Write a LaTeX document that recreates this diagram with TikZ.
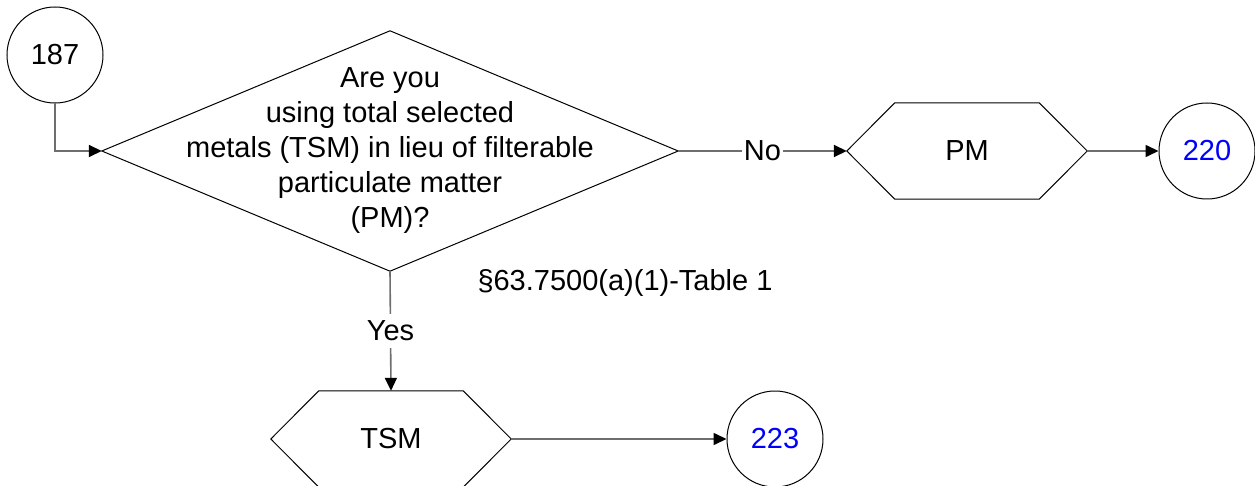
\documentclass[tikz,border=0pt]{standalone}
\usepackage{fontspec}
\setmainfont{Liberation Sans}
\usetikzlibrary{arrows.meta}
\definecolor{connc}{RGB}{110,110,110}
\definecolor{numblue}{RGB}{0,0,255}
\begin{document}
\begin{tikzpicture}[x=1pt,y=-1pt,
  font=\fontsize{29}{35}\selectfont,
  conn/.style={draw=connc, line width=1.6pt, -{Triangle[length=13pt,width=12pt,color=black]}},
  outline/.style={draw=black, line width=1pt},
  offpage/.style={circle, outline, minimum size=96pt, inner sep=0pt},
  boxnode/.style={rectangle, minimum width=240pt, minimum height=96pt, inner sep=0pt},
  lbl/.style={fill=white, inner xsep=2pt, inner ysep=7pt}]
\useasboundingbox (0,0) rectangle (1255,486);

% nodes
\node[offpage] (c187) at (55,55) {187};
\node[rectangle, minimum width=576pt, minimum height=240pt, inner sep=0pt, align=center] (q) at (390,151)
  {Are you\\using total selected\\metals (TSM) in lieu of filterable\\particulate matter\\(PM)?};
\node[boxnode] (pm) at (967,151) {PM};
\node[offpage, text=numblue] (c220) at (1207,151) {220};
\node[boxnode] (tsm) at (391,439) {TSM};
\node[offpage, text=numblue] (c223) at (775,439) {223};
\node (ref) at (625,283) {§63.7500(a)(1)-Table 1};

% shape outlines
\draw[outline] (q.west) -- (q.north) -- (q.east) -- (q.south) -- cycle;
\draw[outline] (pm.west) -- ([xshift=48pt]pm.north west) -- ([xshift=-48pt]pm.north east) -- (pm.east)
  -- ([xshift=-48pt]pm.south east) -- ([xshift=48pt]pm.south west) -- cycle;
\draw[outline] (tsm.west) -- ([xshift=48pt]tsm.north west) -- ([xshift=-48pt]tsm.north east) -- (tsm.east)
  -- ([xshift=-48pt]tsm.south east) -- ([xshift=48pt]tsm.south west) -- cycle;

% connectors
\draw[conn] (c187.south) |- (q.west);
\draw[conn] (q.east) -- node[lbl] (no) {No} (pm.west);
\draw[conn] (pm.east) -- (c220.west);
\draw[conn] (q.south) -- node[lbl] (yes) {Yes} (tsm.north);
\draw[conn] (tsm.east) -- (c223.west);
\end{tikzpicture}
\end{document}
